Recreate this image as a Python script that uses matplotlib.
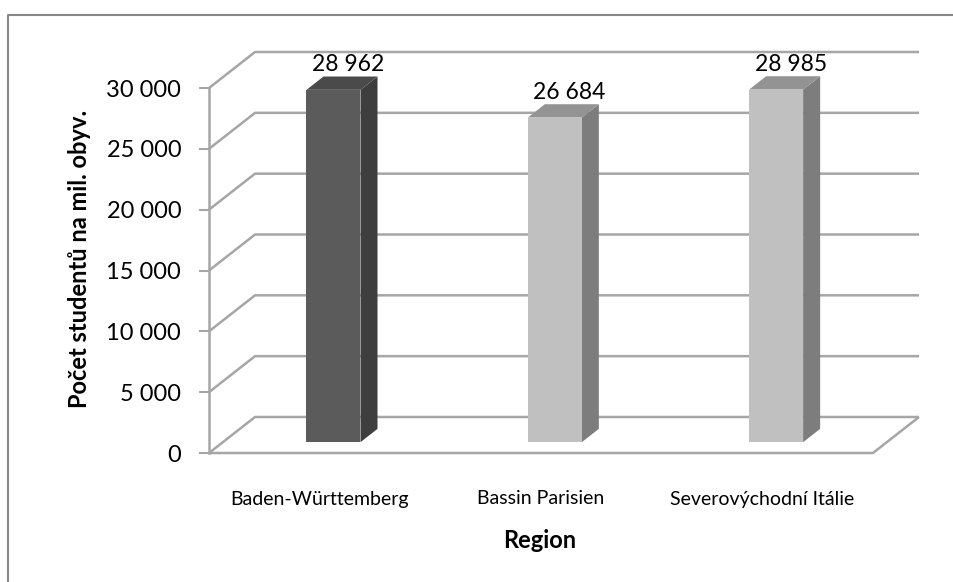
import matplotlib.pyplot as plt
from matplotlib.patches import Polygon
from matplotlib.lines import Line2D

plt.rcParams["font.family"] = ["Lato", "DejaVu Sans"]

regions = ["Baden-Württemberg", "Bassin Parisien", "Severovýchodní Itálie"]
students = [28962, 26684, 28985]
y_ticks = [0, 5000, 10000, 15000, 20000, 25000, 30000]
y_max = 30000

front_colors = ["#5b5b5b", "#c0c0c0", "#c0c0c0"]
side_colors = ["#3e3e3e", "#7d7d7d", "#7d7d7d"]
top_colors = ["#4a4a4a", "#939393", "#939393"]

# oblique projection of the 3D box: depth d in [0, 1]
DX = 0.208      # shift in category units at full depth
DY = 2960       # shift in value units at full depth


def proj(x, v, d):
    return (x + d * DX, v + d * DY)


def fmt(v):
    return f"{v:,}".replace(",", " ")


fig = plt.figure(figsize=(9.54, 5.82), dpi=100)
W, H = 954, 582
ax = fig.add_axes([209 / W, 1 - 453 / H, 710 / W, 401 / H])
ax.set_xlim(0, 3.208)
ax.set_ylim(0, 32960)
ax.patch.set_visible(False)

grid_kw = dict(color="#a6a6a6", lw=1.8, solid_capstyle="butt", zorder=1, clip_on=False)
n = len(regions)

# back wall and left wall grid
for v in y_ticks:
    x0, y0 = proj(0, v, 0)
    x1, y1 = proj(0, v, 1)
    x2, y2 = proj(n, v, 1)
    ax.add_line(Line2D([x0, x1, x2], [y0, y1, y2], **grid_kw))

# floor edges
fx = [proj(0, 0, 0)[0], proj(n, 0, 0)[0], proj(n, 0, 1)[0]]
fy = [proj(0, 0, 0)[1], proj(n, 0, 0)[1], proj(n, 0, 1)[1]]
ax.add_line(Line2D(fx, fy, **grid_kw))

# bars
bw = 0.244
d0, d1 = 0.30, 0.67
for i, v in enumerate(students):
    xc = i + 0.5
    xl, xr = xc - bw / 2, xc + bw / 2
    front = [proj(xl, 0, d0), proj(xr, 0, d0), proj(xr, v, d0), proj(xl, v, d0)]
    side = [proj(xr, 0, d0), proj(xr, 0, d1), proj(xr, v, d1), proj(xr, v, d0)]
    top = [proj(xl, v, d0), proj(xr, v, d0), proj(xr, v, d1), proj(xl, v, d1)]
    for pts, c in ((side, side_colors[i]), (top, top_colors[i]), (front, front_colors[i])):
        ax.add_patch(Polygon(pts, closed=True, facecolor=c, edgecolor="none", zorder=3))
    lx, ly = proj(xc, v, d1)
    ax.annotate(fmt(v), (lx - 0.01, ly), xytext=(0, 4), textcoords="offset points",
                ha="center", va="baseline", fontsize=16.5, color="black", zorder=4)

for s in ("top", "right", "bottom"):
    ax.spines[s].set_visible(False)
ax.spines["left"].set_bounds(0, y_max)
ax.spines["left"].set_color("#a6a6a6")
ax.spines["left"].set_linewidth(1.8)

ax.set_yticks(y_ticks, [fmt(t) for t in y_ticks])
ax.tick_params(axis="y", length=7, width=1.5, color="#a6a6a6", pad=13, labelsize=17)

ax.set_xticks([i + 0.5 for i in range(n)], regions)
ax.tick_params(axis="x", length=0, pad=27, labelsize=14)

ax.set_xlabel("Region", fontsize=17, fontweight="bold", va="center")
ax.xaxis.set_label_coords((540 - 209) / 710, -(540 - 453) / 401)
ax.set_ylabel("Počet studentů na mil. obyv.", fontsize=17, fontweight="bold", va="center")
ax.yaxis.set_label_coords((80 - 209) / 710, (453 - 259) / 401)

# chart area border
fig.add_artist(Line2D([8 / W, 8 / W, 1], [0, 1 - 15 / H, 1 - 15 / H],
                      transform=fig.transFigure, color="#878787", lw=1.5))

fig.savefig("out.png", dpi=100)
